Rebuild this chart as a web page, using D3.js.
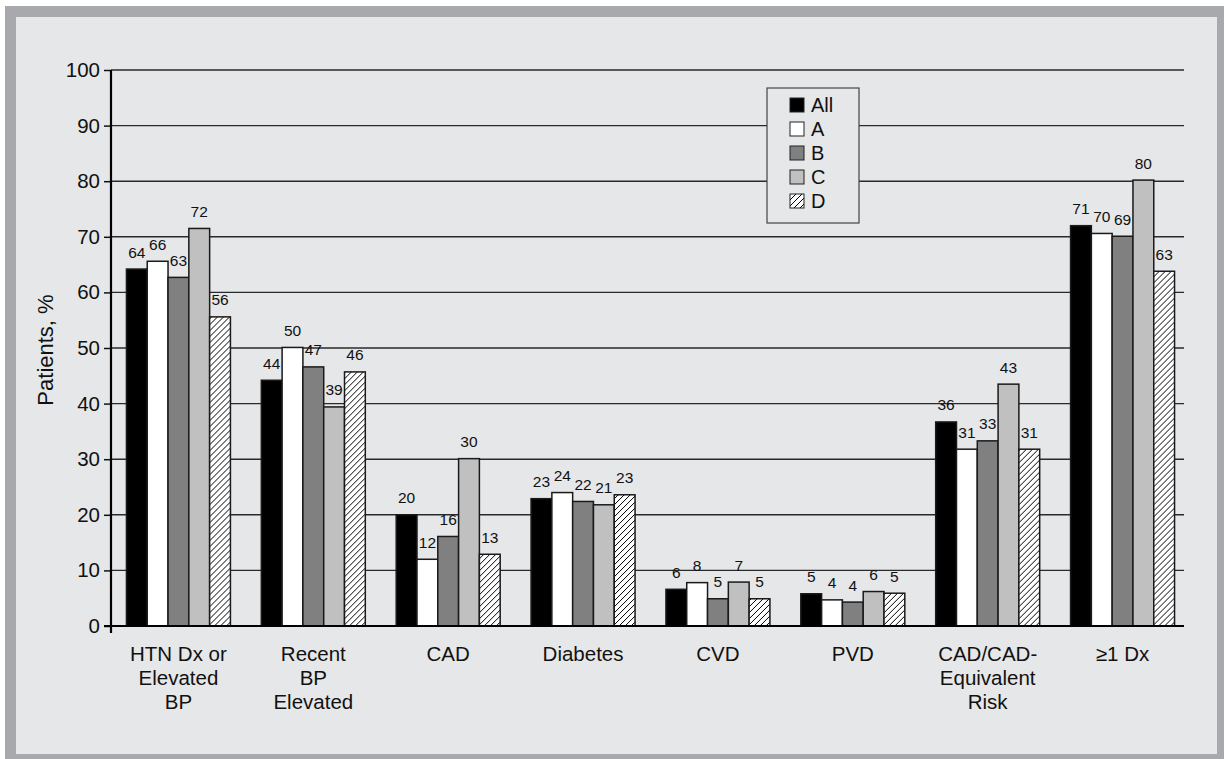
<!DOCTYPE html>
<html><head><meta charset="utf-8">
<script src="https://cdn.jsdelivr.net/npm/d3@7"></script>
<style>
html,body{margin:0;padding:0;background:#fff;}
svg{display:block;font-family:"Liberation Sans",Arial,Helvetica,sans-serif;}
</style></head>
<body>
<svg id="chart" width="1224" height="759"></svg>
<script>
const categories = [["HTN Dx or","Elevated","BP"],["Recent","BP","Elevated"],["CAD"],["Diabetes"],["CVD"],["PVD"],["CAD/CAD-","Equivalent","Risk"],["≥1 Dx"]];
const seriesNames = ["All","A","B","C","D"];
const valAll = [64.2, 44.2, 20.0, 22.9, 6.6, 5.8, 36.7, 72.0];
const valA   = [65.6, 50.1, 12.0, 24.0, 7.8, 4.7, 31.8, 70.6];
const valB   = [62.7, 46.6, 16.1, 22.4, 4.9, 4.3, 33.3, 70.1];
const valC   = [71.5, 39.4, 30.1, 21.8, 7.9, 6.2, 43.5, 80.2];
const valD   = [55.6, 45.7, 12.9, 23.6, 4.9, 5.9, 31.8, 63.8];
const lblAll = [64, 44, 20, 23, 6, 5, 36, 71];
const lblA   = [66, 50, 12, 24, 8, 4, 31, 70];
const lblB   = [63, 47, 16, 22, 5, 4, 33, 69];
const lblC   = [72, 39, 30, 21, 7, 6, 43, 80];
const lblD   = [56, 46, 13, 23, 5, 5, 31, 63];
const yTicks = [0,10,20,30,40,50,60,70,80,90,100];

const values = [valAll, valA, valB, valC, valD];
const labels = [lblAll, lblA, lblB, lblC, lblD];
const fills = ["#000000","#ffffff","#808080","#c0c0c0","url(#hatch)"];

const svg = d3.select("#chart");
const defs = svg.append("defs");
const pat = defs.append("pattern").attr("id","hatch").attr("patternUnits","userSpaceOnUse")
  .attr("width",6).attr("height",6);
pat.append("rect").attr("width",6).attr("height",6).attr("fill","#fff");
pat.append("path").attr("d","M-1,1 L1,-1 M0,6 L6,0 M5,7 L7,5").attr("stroke","#000").attr("stroke-width",1);

// frame
svg.append("rect").attr("x",5).attr("y",6).attr("width",1219).attr("height",753).attr("fill","#a7a9ac");
svg.append("rect").attr("x",16).attr("y",17).attr("width",1201).attr("height",737).attr("fill","#e6e7e9");

const x0 = 111, x1 = 1190, gridEnd = 1184;
const y = d3.scaleLinear().domain([0,100]).range([626,70]);
const xb = d3.scaleBand().domain(d3.range(categories.length)).range([x0,x1]).paddingInner(0.229).paddingOuter(0.1145);
const xs = d3.scaleBand().domain(d3.range(seriesNames.length)).range([0,xb.bandwidth()]);

// gridlines
svg.append("g").selectAll("line").data(yTicks.filter(d=>d>0)).join("line")
  .attr("x1",x0).attr("x2",gridEnd).attr("y1",d=>y(d)).attr("y2",d=>y(d))
  .attr("stroke","#2a2a2a").attr("stroke-width",1.4);

// legend box (covers gridlines)
const lg = svg.append("g");
lg.append("rect").attr("x",767).attr("y",88).attr("width",92).attr("height",135)
  .attr("fill","#e6e7e9").attr("stroke","#444").attr("stroke-width",1.2);
seriesNames.forEach((s,i)=>{
  const cy = 105 + i*24;
  lg.append("rect").attr("x",790).attr("y",cy-7).attr("width",14).attr("height",14)
    .attr("fill",fills[i]).attr("stroke","#222").attr("stroke-width",1);
  lg.append("text").attr("x",811).attr("y",cy+7).attr("font-size",20).attr("fill","#111").text(s);
});

// y axis
const yAxis = d3.axisLeft(y).tickValues(yTicks).tickSize(7).tickPadding(4);
const ga = svg.append("g").attr("transform",`translate(${x0},0)`).call(yAxis);
ga.select(".domain").remove();
ga.selectAll(".tick line").attr("stroke","#111").attr("stroke-width",1.5);
ga.selectAll(".tick text").attr("font-size",20.5).attr("fill","#111").attr("font-family","Liberation Sans, Arial, sans-serif");

// bars
categories.forEach((c,ci)=>{
  const g = svg.append("g").attr("transform",`translate(${xb(ci)},0)`);
  g.selectAll("rect").data(values.map((v,si)=>({si, v:v[ci]}))).join("rect")
    .attr("x",d=>xs(d.si)).attr("width",xs.bandwidth())
    .attr("y",d=>y(d.v)).attr("height",d=>y(0)-y(d.v))
    .attr("fill",d=>fills[d.si]).attr("stroke","#1a1a1a").attr("stroke-width",1.5);
  g.selectAll("text").data(values.map((v,si)=>({si, v:v[ci], l:labels[si][ci]}))).join("text")
    .attr("x",d=>xs(d.si)+xs.bandwidth()/2).attr("y",d=>y(d.v)-11.5)
    .attr("text-anchor","middle").attr("font-size",15.5).attr("fill","#111").text(d=>d.l);
});

// axis lines
svg.append("line").attr("x1",104).attr("x2",gridEnd).attr("y1",y(0)).attr("y2",y(0)).attr("stroke","#000").attr("stroke-width",2.2);
svg.append("line").attr("x1",x0).attr("x2",x0).attr("y1",y(100)).attr("y2",y(0)+7).attr("stroke","#000").attr("stroke-width",2.2);

// x labels
categories.forEach((c,ci)=>{
  const t = svg.append("text").attr("text-anchor","middle").attr("font-size",20.5).attr("fill","#111");
  c.forEach((line,li)=>{
    t.append("tspan").attr("x",xb(ci)+xb.bandwidth()/2).attr("y",661+li*24).text(line);
  });
});

// y label
svg.append("text").attr("transform","translate(53,350) rotate(-90)").attr("text-anchor","middle")
  .attr("font-size",22).attr("fill","#111").text("Patients, %");
</script>
</body></html>
